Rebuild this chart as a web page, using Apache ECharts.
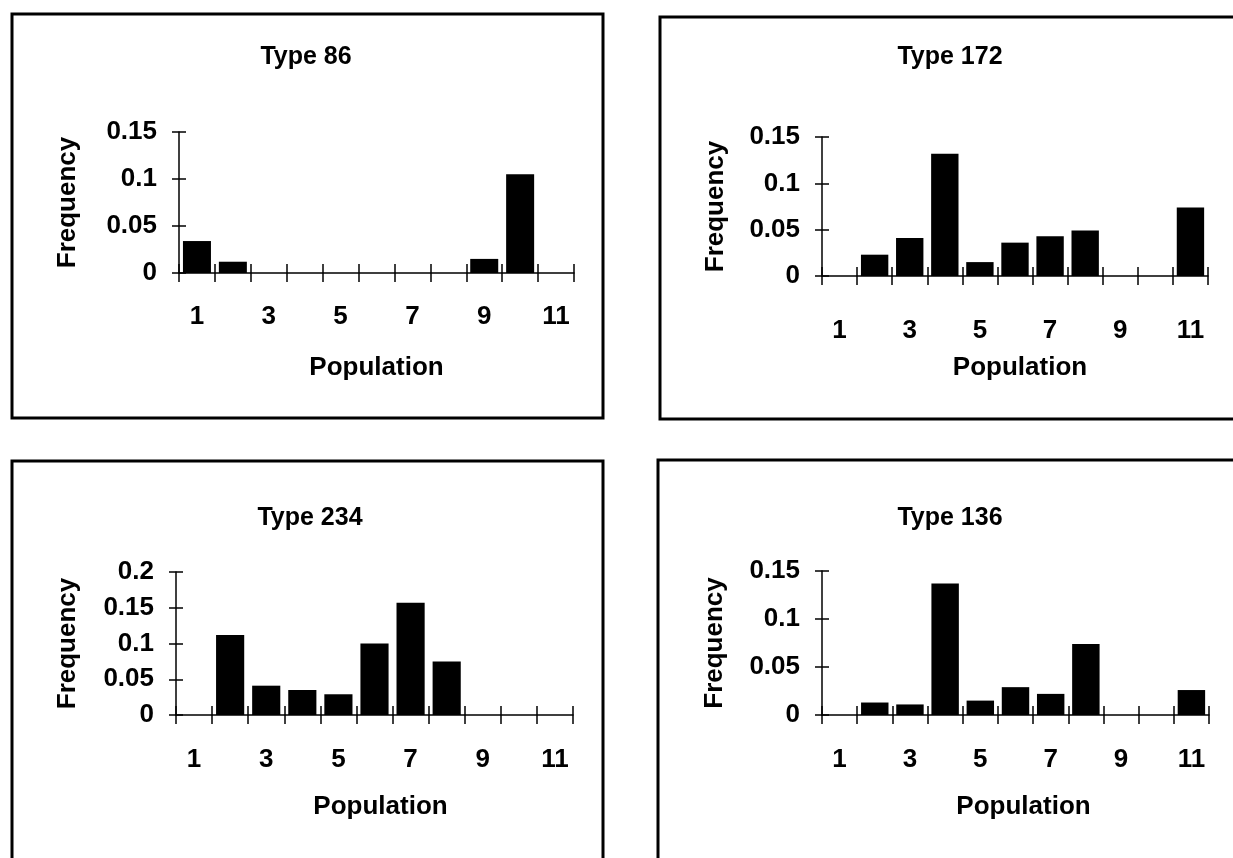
<!DOCTYPE html>
<html>
<head>
<meta charset="utf-8">
<script src="https://cdn.jsdelivr.net/npm/echarts@6/dist/echarts.min.js"></script>
<style>
html,body{margin:0;padding:0;background:#fff;}
#chart{width:1233px;height:858px;}
</style>
</head>
<body>
<div id="chart"></div>
<script>
// ---- data ----
const categories = ['1','2','3','4','5','6','7','8','9','10','11'];
const titles = ['Type 86', 'Type 172', 'Type 234', 'Type 136'];
const type86  = [0.034, 0.012, 0, 0, 0, 0, 0, 0, 0.015, 0.105, 0];
const type172 = [0, 0.023, 0.041, 0.132, 0.015, 0.036, 0.043, 0.049, 0, 0, 0.074];
const type234 = [0, 0.112, 0.041, 0.035, 0.029, 0.100, 0.157, 0.075, 0, 0, 0];
const type136 = [0, 0.013, 0.011, 0.137, 0.015, 0.029, 0.022, 0.074, 0, 0, 0.026];
const yMaxes = [0.15, 0.15, 0.2, 0.15];
const yInterval = 0.05;
const xTitle = 'Population';
const yTitle = 'Frequency';

const seriesData = [type86, type172, type234, type136];

// ---- layout ----
const FONT = 'Liberation Sans, Arial, Helvetica, sans-serif';
const grids = [
  {left: 179, top: 132, width: 395, height: 141},
  {left: 822, top: 137, width: 386, height: 139},
  {left: 176, top: 572, width: 397, height: 143},
  {left: 822, top: 571, width: 387, height: 144}
];
const boxes = [
  {x: 12, y: 14, w: 591, h: 404},
  {x: 660, y: 17, w: 600, h: 402},
  {x: 12, y: 461, w: 591, h: 420},
  {x: 658, y: 460, w: 600, h: 420}
];
const titlePos = [[306, 57], [950, 57], [310, 518], [950, 518]];
const xLabelMargin = [31, 42, 32, 32];
const xNameGap = [82, 79, 79, 79];
const xNameShift = [0, 5, 6, 8];
const yNameGap = [98, 93, 95, 94];

const tickText = {fontFamily: FONT, fontWeight: 'bold', fontSize: 26, color: '#000'};
const nameText = {fontFamily: FONT, fontWeight: 'bold', fontSize: 26, color: '#000'};
const lineStyle = {color: '#000', width: 1.5};

const xAxes = [], yAxes = [], series = [], graphics = [];
grids.forEach((g, i) => {
  // primary x axis (ticks outward)
  xAxes.push({
    type: 'category', gridIndex: i, data: categories, position: 'bottom',
    boundaryGap: true,
    axisLine: {show: true, lineStyle},
    axisTick: {show: true, interval: 0, length: 9, inside: false, lineStyle},
    axisLabel: Object.assign({interval: 1, margin: xLabelMargin[i]}, tickText),
    name: xTitle, nameLocation: 'middle', nameGap: xNameGap[i],
    nameTextStyle: Object.assign({padding: [0, 0, 0, 2 * xNameShift[i]]}, nameText),
    splitLine: {show: false}
  });
  // secondary x axis (ticks inward)
  xAxes.push({
    type: 'category', gridIndex: i, data: categories, position: 'bottom',
    boundaryGap: true,
    axisLine: {show: false},
    axisTick: {show: true, interval: 0, length: 9, inside: true, lineStyle},
    axisLabel: {show: false},
    splitLine: {show: false}
  });
  yAxes.push({
    type: 'value', gridIndex: i, min: 0, max: yMaxes[i], interval: yInterval, position: 'left',
    axisLine: {show: true, lineStyle},
    axisTick: {show: true, length: 7, inside: false, lineStyle},
    axisLabel: Object.assign({margin: 22}, tickText),
    name: yTitle, nameLocation: 'middle', nameGap: yNameGap[i],
    nameTextStyle: nameText,
    splitLine: {show: false}
  });
  yAxes.push({
    type: 'value', gridIndex: i, min: 0, max: yMaxes[i], interval: yInterval, position: 'left',
    axisLine: {show: false},
    axisTick: {show: true, length: 7, inside: true, lineStyle},
    axisLabel: {show: false},
    splitLine: {show: false}
  });
  series.push({
    type: 'bar', xAxisIndex: 2 * i, yAxisIndex: 2 * i,
    data: seriesData[i], barCategoryGap: '22%',
    itemStyle: {color: '#000'},
    silent: true
  });
  graphics.push({
    type: 'rect', shape: {x: boxes[i].x, y: boxes[i].y, width: boxes[i].w, height: boxes[i].h},
    style: {fill: 'none', stroke: '#000', lineWidth: 3}, silent: true
  });
  graphics.push({
    type: 'text', x: titlePos[i][0], y: titlePos[i][1],
    style: {text: titles[i], font: 'bold 25px ' + FONT, fill: '#000', textAlign: 'center', textVerticalAlign: 'middle'},
    silent: true
  });
});

const chart = echarts.init(document.getElementById('chart'), null, {renderer: 'canvas'});
chart.setOption({
  animation: false,
  backgroundColor: '#fff',
  grid: grids.map(g => Object.assign({containLabel: false}, g)),
  xAxis: xAxes,
  yAxis: yAxes,
  series: series,
  graphic: graphics
});
</script>
</body>
</html>
